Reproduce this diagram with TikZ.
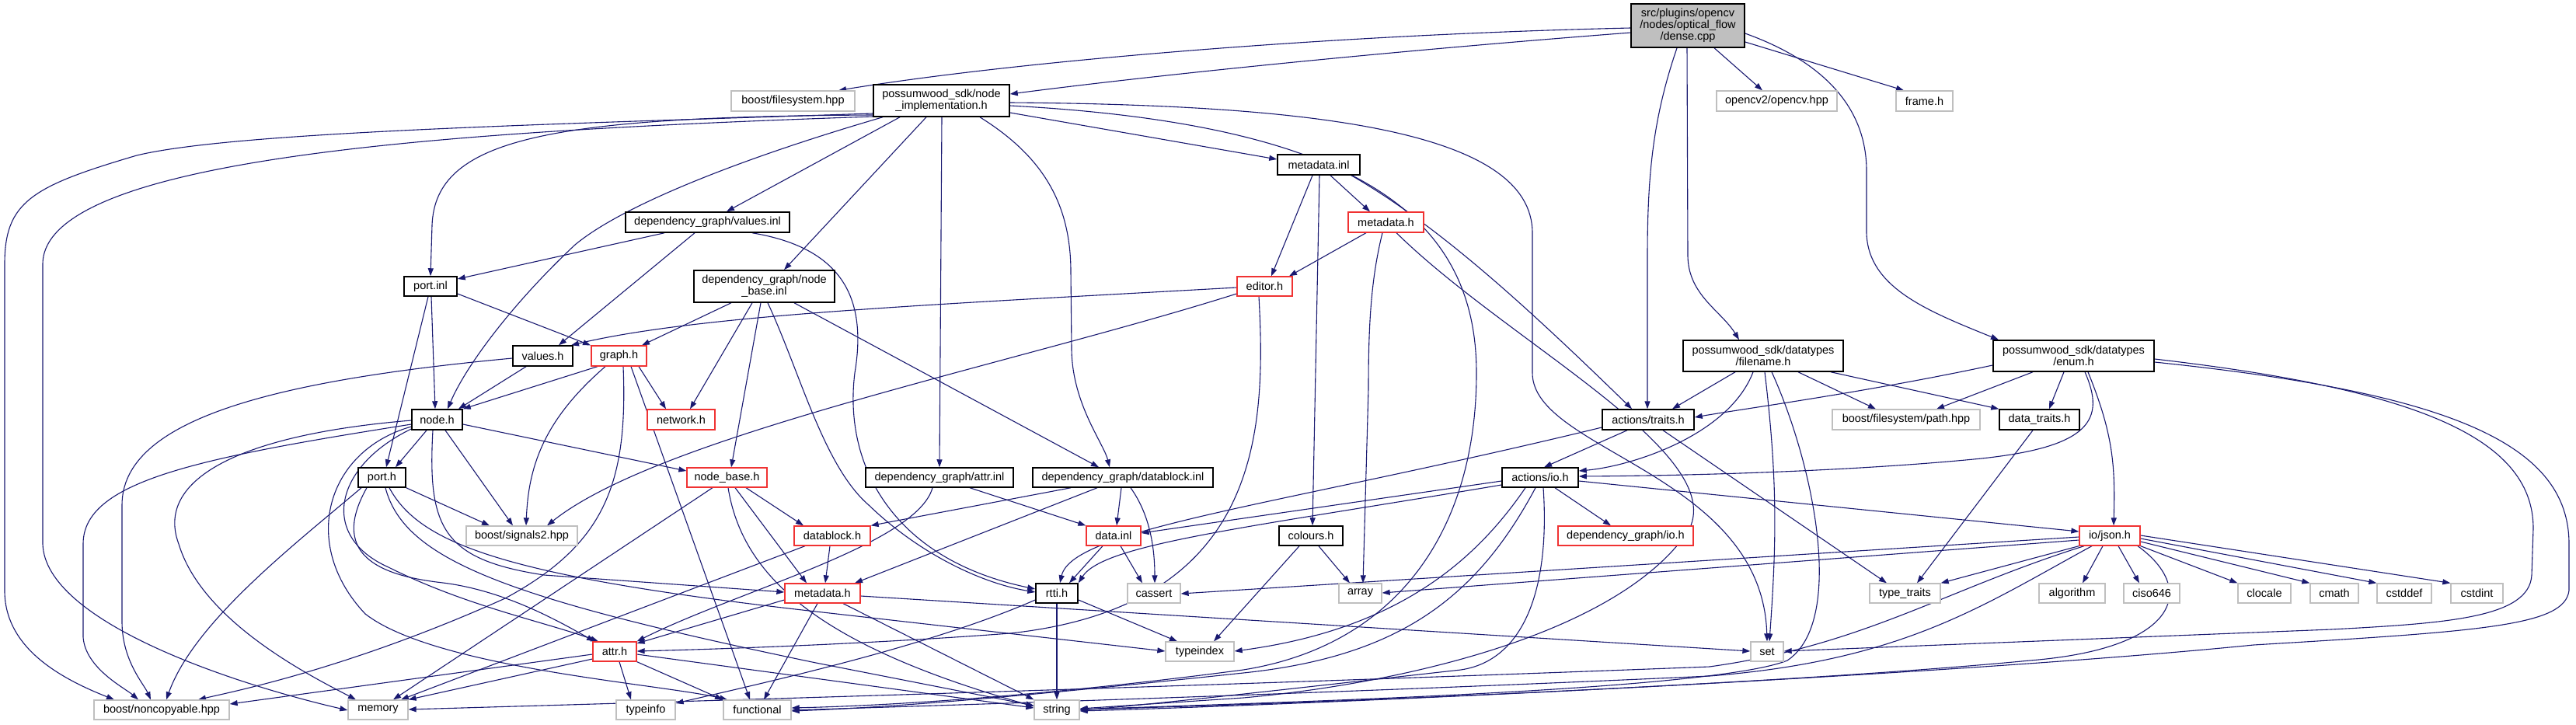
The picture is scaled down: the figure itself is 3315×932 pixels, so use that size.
\documentclass[tikz,border=0pt]{standalone}
\usepackage{fontspec}
\setmainfont{Liberation Sans}
\usetikzlibrary{arrows.meta}
\definecolor{edgec}{RGB}{25,25,112}
\definecolor{redc}{RGB}{240,50,50}
\definecolor{grayc}{RGB}{191,191,191}
\definecolor{dfill}{RGB}{191,191,191}
\pgfdeclarelayer{bg}
\pgfsetlayers{bg,main}
\newcommand{\fs}{\fontsize{14.5}{15}\selectfont}
\tikzset{
 nb/.style={draw=black, line width=1.5pt, fill=white, inner sep=0pt, align=center, font=\fs},
 nr/.style={draw=redc, line width=1.3pt, fill=white, inner sep=0pt, align=center, font=\fs},
 ng/.style={draw=grayc, line width=1.3pt, fill=white, inner sep=0pt, align=center, font=\fs},
 e/.style={draw=edgec, line width=1.1pt, line join=round, -{Triangle[length=10pt,width=7pt]}},
}
\begin{document}
\begin{tikzpicture}[x=1pt,y=-1pt]
\useasboundingbox (0,0) rectangle (3315,932);
% nodes
\node[nb,fill=dfill,minimum width=146pt,minimum height=56pt] (dense) at (2172,33) {src/plugins/opencv\\/nodes/optical\_flow\\/dense.cpp};
\node[ng,minimum width=159pt,minimum height=26pt] (bfs) at (1020.5,130) {boost/filesystem.hpp};
\node[nb,minimum width=175pt,minimum height=41pt] (nimpl) at (1211.5,129.5) {possumwood\_sdk/node\\\_implementation.h};
\node[ng,minimum width=155pt,minimum height=26pt] (ocv) at (2286.5,130) {opencv2/opencv.hpp};
\node[ng,minimum width=73pt,minimum height=26pt] (frame) at (2476.5,130) {frame.h};
\node[nb,minimum width=106pt,minimum height=26pt] (mdinl) at (1697,212) {metadata.inl};
\node[nb,minimum width=211pt,minimum height=26pt] (vinl) at (910.5,286) {dependency\_graph/values.inl};
\node[nr,minimum width=97pt,minimum height=26pt] (mdh1) at (1783.5,286) {metadata.h};
\node[nb,minimum width=68pt,minimum height=25pt] (portinl) at (554,368.5) {port.inl};
\node[nb,minimum width=181pt,minimum height=41pt] (nbinl) at (983.5,368.5) {dependency\_graph/node\\\_base.inl};
\node[nr,minimum width=71pt,minimum height=25pt] (editor) at (1627.5,368.5) {editor.h};
\node[nb,minimum width=77pt,minimum height=26pt] (valuesh) at (698.5,458) {values.h};
\node[nr,minimum width=71pt,minimum height=26pt] (graph) at (796.5,458) {graph.h};
\node[nb,minimum width=206pt,minimum height=40pt] (fname) at (2269,458) {possumwood\_sdk/datatypes\\/filename.h};
\node[nb,minimum width=207pt,minimum height=40pt] (enum) at (2668.5,458) {possumwood\_sdk/datatypes\\/enum.h};
\node[nb,minimum width=65pt,minimum height=26pt] (node) at (562.5,540) {node.h};
\node[nr,minimum width=87pt,minimum height=26pt] (network) at (876.5,540) {network.h};
\node[nb,minimum width=118pt,minimum height=26pt] (traits) at (2121,540) {actions/traits.h};
\node[ng,minimum width=190pt,minimum height=26pt] (path) at (2453,540) {boost/filesystem/path.hpp};
\node[nb,minimum width=103pt,minimum height=26pt] (dtraits) at (2624.5,540) {data\_traits.h};
\node[nb,minimum width=61pt,minimum height=25pt] (porth) at (491.5,614.5) {port.h};
\node[nr,minimum width=103pt,minimum height=25pt] (nbase) at (935.5,614.5) {node\_base.h};
\node[nb,minimum width=190pt,minimum height=25pt] (attrinl) at (1209,614.5) {dependency\_graph/attr.inl};
\node[nb,minimum width=232pt,minimum height=25pt] (dbinl) at (1445,614.5) {dependency\_graph/datablock.inl};
\node[nb,minimum width=98pt,minimum height=25pt] (ioh) at (1982,614.5) {actions/io.h};
\node[ng,minimum width=143pt,minimum height=25pt] (sig) at (671.5,689.5) {boost/signals2.hpp};
\node[nr,minimum width=98pt,minimum height=25pt] (dbh) at (1071,689.5) {datablock.h};
\node[nr,minimum width=70pt,minimum height=25pt] (datainl) at (1433,689.5) {data.inl};
\node[nb,minimum width=82pt,minimum height=25pt] (colours) at (1687,689.5) {colours.h};
\node[nr,minimum width=174pt,minimum height=25pt] (dgio) at (2092,689.5) {dependency\_graph/io.h};
\node[nr,minimum width=78pt,minimum height=25pt] (json) at (2715,689.5) {io/json.h};
\node[nr,minimum width=97pt,minimum height=25pt] (mdh2) at (1058.5,763.5) {metadata.h};
\node[nb,minimum width=54pt,minimum height=25pt] (rtti) at (1360,763.5) {rtti.h};
\node[ng,minimum width=68pt,minimum height=25pt] (cassert) at (1485,763.5) {cassert};
\node[ng,minimum width=55pt,minimum height=25pt] (array) at (1750.5,763.5) {array};
\node[ng,minimum width=91pt,minimum height=25pt] (ttraits) at (2451.5,763.5) {type\_traits};
\node[ng,minimum width=85pt,minimum height=25pt] (algorithm) at (2666.5,763.5) {algorithm};
\node[ng,minimum width=72pt,minimum height=25pt] (ciso) at (2769,763.5) {ciso646};
\node[ng,minimum width=68pt,minimum height=25pt] (clocale) at (2914,763.5) {clocale};
\node[ng,minimum width=62pt,minimum height=25pt] (cmath) at (3004,763.5) {cmath};
\node[ng,minimum width=70pt,minimum height=25pt] (cstddef) at (3094,763.5) {cstddef};
\node[ng,minimum width=67pt,minimum height=25pt] (cstdint) at (3187.5,763.5) {cstdint};
\node[nr,minimum width=56pt,minimum height=25pt] (attr) at (791,838.5) {attr.h};
\node[ng,minimum width=88pt,minimum height=25pt] (typeindex) at (1544,838.5) {typeindex};
\node[ng,minimum width=42pt,minimum height=25pt] (set) at (2274,838.5) {set};
\node[ng,minimum width=174pt,minimum height=25pt] (noncopy) at (208,913.5) {boost/noncopyable.hpp};
\node[ng,minimum width=77pt,minimum height=25pt] (memory) at (486.5,913.5) {memory};
\node[ng,minimum width=76pt,minimum height=25pt] (typeinfo) at (831,913.5) {typeinfo};
\node[ng,minimum width=87pt,minimum height=25pt] (functional) at (974.5,913.5) {functional};
\node[ng,minimum width=58pt,minimum height=25pt] (string) at (1360,913.5) {string};
% edges
\begin{pgfonlayer}{bg}
% dense.cpp
\draw[e] (dense.west |- 0,36) .. controls (1700,45) and (1300,80) .. (1079,0 |- bfs.north);
\draw[e] (dense.west |- 0,42) .. controls (1800,65) and (1500,95) .. (nimpl.east |- 0,121);
\draw[e] (2206,0 |- dense.south) -- (2268,0 |- ocv.north);
\draw[e] (dense.east |- 0,54) -- (2450,0 |- frame.north);
\draw[e] (2158,0 |- dense.south) .. controls (2128,150) and (2120,220) .. (2120,330) -- (2120,0 |- traits.north);
\draw[e] (2171,0 |- dense.south) -- (2172,330) .. controls (2173,380) and (2215,400) .. (2238,0 |- fname.north);
\draw[e] (dense.east |- 0,43) .. controls (2335,75) and (2402,130) .. (2402,220) -- (2402,300) .. controls (2404,370) and (2480,400) .. (2572,0 |- enum.north);
% node_implementation.h
\draw[e] (nimpl.west |- 0,146) .. controls (700,160) and (300,170) .. (176,200) .. controls (40,240) and (6,260) .. (6,340) -- (6,760) .. controls (6,830) and (70,870) .. (147,0 |- noncopy.north);
\draw[e] (nimpl.west |- 0,150) .. controls (600,168) and (55,200) .. (55,340) -- (55,700) .. controls (58,800) and (300,880) .. (memory.west |- 0,914);
\draw[e] (nimpl.west |- 0,148) .. controls (700,150) and (560,180) .. (556,290) -- (554,0 |- portinl.north);
\draw[e] (1136,0 |- nimpl.south) .. controls (950,205) and (800,265) .. (740,315) .. controls (660,390) and (600,470) .. (576,0 |- node.north);
\draw[e] (1158,0 |- nimpl.south) -- (935,0 |- vinl.north);
\draw[e] (1192,0 |- nimpl.south) -- (1009,0 |- nbinl.north);
\draw[e] (1212,0 |- nimpl.south) -- (1209,0 |- attrinl.north);
\draw[e] (1261,0 |- nimpl.south) .. controls (1340,200) and (1378,260) .. (1378,350) -- (1379,450) .. controls (1380,520) and (1420,570) .. (1428,0 |- dbinl.north);
\draw[e] (nimpl.east |- 0,145) -- (mdinl.west |- 0,205);
\draw[e] (nimpl.east |- 0,132) .. controls (1700,135) and (1972,170) .. (1972,300) -- (1972,480) .. controls (1972,580) and (2268,610) .. (2274,0 |- set.north);
\draw[e] (nimpl.east |- 0,136) .. controls (1750,160) and (1900,280) .. (1900,480) .. controls (1900,680) and (1800,830) .. (1600,862) .. controls (1350,895) and (1150,908) .. (functional.east |- 0,911);
% values.inl
\draw[e] (855,0 |- vinl.south) -- (portinl.east |- 0,359);
\draw[e] (894,0 |- vinl.south) -- (719,0 |- valuesh.north);
\draw[e] (968,0 |- vinl.south) .. controls (1090,320) and (1115,390) .. (1100,480) .. controls (1085,600) and (1150,720) .. (rtti.west |- 0,758);
% node_base.inl
\draw[e] (941,0 |- nbinl.south) -- (826,0 |- graph.north);
\draw[e] (968,0 |- nbinl.south) -- (888,0 |- network.north);
\draw[e] (979,0 |- nbinl.south) -- (941,0 |- nbase.north);
\draw[e] (988,0 |- nbinl.south) .. controls (1030,480) and (1060,600) .. (1118,650) .. controls (1180,710) and (1260,750) .. (rtti.west |- 0,762);
\draw[e] (1022,0 |- nbinl.south) -- (1414,0 |- dbinl.north);
% port.inl
\draw[e] (555,0 |- portinl.south) -- (560,0 |- node.north);
\draw[e] (551,0 |- portinl.south) -- (497,0 |- porth.north);
\draw[e] (portinl.east |- 0,378) -- (760,0 |- graph.north);
% editor.h
\draw[e] (editor.west |- 0,370) .. controls (1200,392) and (900,405) .. (735,0 |- valuesh.north);
\draw[e] (editor.west |- 0,378) .. controls (1300,470) and (850,560) .. (704,0 |- sig.north);
\draw[e] (1620,0 |- editor.south) .. controls (1630,560) and (1620,780) .. (1300,815) .. controls (1100,830) and (900,836) .. (attr.east |- 0,838);
% metadata.inl
\draw[e] (1689,0 |- mdinl.south) -- (1636,0 |- editor.north);
\draw[e] (1698,0 |- mdinl.south) -- (1689,0 |- colours.north);
\draw[e] (1712,0 |- mdinl.south) -- (1763,0 |- mdh1.north);
\draw[e] (1739,0 |- mdinl.south) .. controls (1850,290) and (1960,390) .. (2100,0 |- traits.north);
% metadata.h (top)
\draw[e] (1758,0 |- mdh1.south) -- (1659,0 |- editor.north);
\draw[e] (1779,0 |- mdh1.south) .. controls (1764,360) and (1761,420) .. (1761,500) -- (1754,0 |- array.north);
\draw[e] (1797,0 |- mdh1.south) .. controls (1950,450) and (2260,600) .. (2160,700) .. controls (2060,820) and (1800,880) .. (1600,898) -- (string.east |- 0,912);
% values.h
\draw[e] (677,0 |- valuesh.south) -- (590,0 |- node.north);
\draw[e] (valuesh.west |- 0,461) .. controls (350,490) and (157,540) .. (157,650) -- (157,800) .. controls (157,850) and (185,880) .. (194,0 |- noncopy.north);
% graph.h
\draw[e] (769,0 |- graph.south) -- (node.north east);
\draw[e] (779,0 |- graph.south) .. controls (700,540) and (680,600) .. (677,0 |- sig.north);
\draw[e] (802,0 |- graph.south) .. controls (808,620) and (780,700) .. (650,770) .. controls (450,860) and (300,890) .. (255,0 |- noncopy.north);
\draw[e] (812,0 |- graph.south) -- (965,0 |- functional.north);
\draw[e] (822,0 |- graph.south) -- (857,0 |- network.north);
% filename.h
\draw[e] (2233,0 |- fname.south) -- (2152,0 |- traits.north);
\draw[e] (2256,0 |- fname.south) .. controls (2225,560) and (2100,600) .. (ioh.east |- 0,606);
\draw[e] (2271,0 |- fname.south) .. controls (2288,620) and (2286,700) .. (2277,0 |- set.north);
\draw[e] (2280,0 |- fname.south) .. controls (2335,600) and (2375,800) .. (2300,850) .. controls (2200,890) and (1600,905) .. (string.east |- 0,913);
\draw[e] (2314,0 |- fname.south) -- (2414,0 |- path.north);
\draw[e] (2356,0 |- fname.south) -- (dtraits.north west);
% enum.h
\draw[e] (enum.west |- 0,470) .. controls (2400,505) and (2250,525) .. (traits.east |- 0,537);
\draw[e] (2616,0 |- enum.south) -- (2492,0 |- path.north);
\draw[e] (2656,0 |- enum.south) -- (2637,0 |- dtraits.north);
\draw[e] (2683,0 |- enum.south) .. controls (2710,540) and (2690,575) .. (2550,590) .. controls (2400,605) and (2200,612) .. (ioh.east |- 0,613);
\draw[e] (2687,0 |- enum.south) .. controls (2720,560) and (2722,600) .. (2720,0 |- json.north);
\draw[e] (enum.east |- 0,462) .. controls (3100,500) and (3260,560) .. (3260,680) -- (3258,740) .. controls (3255,795) and (3150,802) .. (3000,810) -- (set.east |- 0,838);
\draw[e] (enum.east |- 0,466) .. controls (3150,505) and (3306,570) .. (3306,700) -- (3306,760) .. controls (3300,805) and (3200,812) .. (2900,830) .. controls (2500,870) and (1700,906) .. (string.east |- 0,915);
% traits.h
\draw[e] (traits.west |- 0,550) .. controls (1650,650) and (1380,680) .. (1364,0 |- rtti.north);
\draw[e] (2094,0 |- traits.south) -- (1987,0 |- ioh.north);
\draw[e] (2140,0 |- traits.south) -- (2428,0 |- ttraits.north);
% io.h
\draw[e] (ioh.west |- 0,619) -- (datainl.east |- 0,686);
\draw[e] (ioh.west |- 0,624) .. controls (1600,680) and (1420,700) .. (rtti.north east);
\draw[e] (1963,0 |- ioh.south) .. controls (1900,720) and (1800,810) .. (typeindex.east |- 0,838);
\draw[e] (1976,0 |- ioh.south) .. controls (1900,770) and (1800,845) .. (1600,866) .. controls (1300,898) and (1150,910) .. (functional.east |- 0,915);
\draw[e] (1986,0 |- ioh.south) .. controls (1995,760) and (1960,850) .. (1880,862) .. controls (1700,882) and (1500,905) .. (string.east |- 0,914);
\draw[e] (2001,0 |- ioh.south) -- (2073,0 |- dgio.north);
\draw[e] (ioh.east |- 0,619) -- (json.west |- 0,684);
% json.h
\draw[e] (json.west |- 0,691) -- (cassert.east |- 0,764);
\draw[e] (json.west |- 0,695) -- (array.east |- 0,763);
\draw[e] (json.south west) -- (ttraits.north east);
\draw[e] (2682,0 |- json.south) .. controls (2500,760) and (2400,830) .. (2200,858) .. controls (1500,885) and (800,905) .. (memory.east |- 0,913);
\draw[e] (2692,0 |- json.south) .. controls (2550,780) and (2450,850) .. (2200,870) .. controls (1700,893) and (1200,908) .. (functional.east |- 0,914);
\draw[e] (2706,0 |- json.south) -- (2680,0 |- algorithm.north);
\draw[e] (2726,0 |- json.south) -- (2753,0 |- ciso.north);
\draw[e] (2751,0 |- json.south) .. controls (2830,760) and (2800,835) .. (2612,850) .. controls (2300,880) and (1700,905) .. (string.east |- 0,913);
\draw[e] (json.south east) -- (clocale.north west);
\draw[e] (json.east |- 0,697) -- (cmath.north west);
\draw[e] (json.east |- 0,693) -- (cstddef.north west);
\draw[e] (json.east |- 0,689) -- (cstdint.north west);
% data_traits.h
\draw[e] (2616,0 |- dtraits.south) -- (2467,0 |- ttraits.north);
% colours.h
\draw[e] (1672,0 |- colours.south) -- (1562,0 |- typeindex.north);
\draw[e] (1697,0 |- colours.south) -- (1737,0 |- array.north);
% data.inl
\draw[e] (1419,0 |- datainl.south) -- (1376,0 |- rtti.north);
\draw[e] (1442,0 |- datainl.south) -- (1470,0 |- cassert.north);
% datablock.inl
\draw[e] (1378,0 |- dbinl.south) -- (dbh.north east);
\draw[e] (1412,0 |- dbinl.south) -- (1100,0 |- mdh2.north);
\draw[e] (1443,0 |- dbinl.south) -- (1437,0 |- datainl.north);
\draw[e] (1455,0 |- dbinl.south) .. controls (1478,660) and (1486,700) .. (1486,0 |- cassert.north);
% attr.inl
\draw[e] (1200,0 |- attrinl.south) .. controls (1180,700) and (950,760) .. (attr.north east);
\draw[e] (1248,0 |- attrinl.south) -- (datainl.north west);
% datablock.h
\draw[e] (1068,0 |- dbh.south) -- (1062,0 |- mdh2.north);
\draw[e] (1036,0 |- dbh.south) -- (516,0 |- memory.north);
% node_base.h
\draw[e] (917,0 |- nbase.south) -- (506,0 |- memory.north);
\draw[e] (937,0 |- nbase.south) .. controls (955,740) and (1050,830) .. (string.west |- 0,909);
\draw[e] (946,0 |- nbase.south) -- (1038,0 |- mdh2.north);
\draw[e] (960,0 |- nbase.south) -- (1034,0 |- dbh.north);
% metadata.h (bottom)
\draw[e] (mdh2.west |- 0,772) -- (attr.east |- 0,828);
\draw[e] (1052,0 |- mdh2.south) -- (983,0 |- functional.north);
\draw[e] (1085,0 |- mdh2.south) -- (string.north west);
\draw[e] (mdh2.east |- 0,767) -- (set.west |- 0,838);
% rtti.h
\draw[e] (rtti.west |- 0,772) .. controls (1200,830) and (1000,875) .. (typeinfo.east |- 0,905);
\draw[e] (rtti.south) -- (string.north);
\draw[e] (rtti.east |- 0,772) -- (1515,0 |- typeindex.north);
% port.h
\draw[e] (465,0 |- porth.south) .. controls (380,700) and (250,800) .. (214,0 |- noncopy.north);
\draw[e] (472,0 |- porth.south) .. controls (420,720) and (500,742) .. (570,750) .. controls (650,760) and (720,800) .. (765,0 |- attr.north);
\draw[e] (496,0 |- porth.south) .. controls (520,720) and (650,770) .. (1050,853) -- (string.west |- 0,908);
\draw[e] (501,0 |- porth.south) .. controls (540,700) and (650,742) .. (1050,787) -- (typeindex.west |- 0,838);
\draw[e] (porth.south east) -- (630,0 |- sig.north);
% node.h
\draw[e] (node.west |- 0,541) .. controls (300,560) and (200,620) .. (230,700) .. controls (260,800) and (400,870) .. (458,0 |- memory.north);
\draw[e] (node.west |- 0,546) .. controls (250,590) and (107,620) .. (107,700) -- (107,820) .. controls (110,860) and (160,885) .. (178,0 |- noncopy.north);
\draw[e] (node.west |- 0,549) .. controls (420,580) and (385,700) .. (470,790) .. controls (560,860) and (850,880) .. (936,0 |- functional.north);
\draw[e] (node.west |- 0,552) .. controls (430,600) and (410,690) .. (500,730) .. controls (600,780) and (700,800) .. (770,0 |- attr.north);
\draw[e] (549,0 |- node.south) -- (509,0 |- porth.north);
\draw[e] (557,0 |- node.south) .. controls (550,680) and (570,720) .. (700,740) -- (mdh2.west |- 0,762);
\draw[e] (573,0 |- node.south) -- (660,0 |- sig.north);
\draw[e] (node.east |- 0,546) -- (nbase.west |- 0,606);
% attr.h
\draw[e] (attr.west |- 0,842) -- (noncopy.east |- 0,906);
\draw[e] (attr.west |- 0,848) -- (memory.north east);
\draw[e] (797,0 |- attr.south) -- (812,0 |- typeinfo.north);
\draw[e] (attr.south east) -- (930,0 |- functional.north);
\draw[e] (attr.east |- 0,842) -- (string.west |- 0,911);
\end{pgfonlayer}
\end{tikzpicture}
\end{document}
